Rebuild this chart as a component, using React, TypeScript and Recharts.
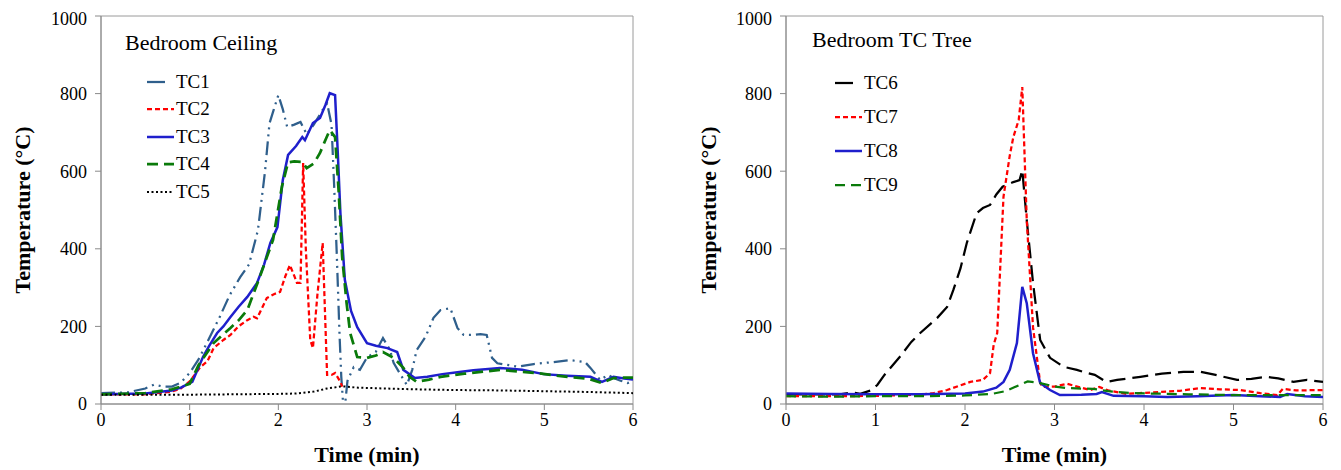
import React from "react";
import {
  LineChart,
  Line,
  XAxis,
  YAxis,
  ReferenceArea,
} from "recharts";

// values (time in min, temperature in °C)
const timeTicks = [0, 1, 2, 3, 4, 5, 6];
const tempTicks = [0, 200, 400, 600, 800, 1000];

const tc1Time = [0, 0.3, 0.5, 0.6, 0.7, 0.8, 0.9, 1.0, 1.1, 1.2, 1.34, 1.45, 1.57, 1.67, 1.77, 1.85, 1.9, 1.95, 2.0, 2.05, 2.1, 2.18, 2.25, 2.32, 2.4, 2.5, 2.55, 2.6, 2.63, 2.66, 2.69, 2.71, 2.74, 2.78, 2.85, 2.92, 3.0, 3.1, 3.18, 3.26, 3.3, 3.38, 3.45, 3.51, 3.56, 3.66, 3.75, 3.83, 3.94, 4.02, 4.09, 4.2, 4.28, 4.35, 4.41, 4.47, 4.6, 4.7, 4.88, 5.1, 5.29, 5.46, 5.52, 5.63, 5.72, 5.78, 5.86, 5.94, 6.0];
const tc1Temp = [28, 30, 40, 50, 45, 45, 55, 80, 115, 160, 225, 280, 327, 360, 448, 600, 723, 760, 796, 760, 714, 720, 727, 695, 720, 758, 775, 720, 560, 380, 180, 70, -30, 60, 95, 88, 120, 135, 170, 139, 106, 75, 49, 88, 139, 173, 222, 242, 247, 196, 178, 178, 180, 178, 119, 105, 100, 96, 103, 108, 113, 108, 93, 62, 75, 67, 60, 54, 60];

const tc2Time = [0, 0.5, 0.8, 0.9, 1.0, 1.12, 1.2, 1.27, 1.38, 1.46, 1.55, 1.65, 1.72, 1.76, 1.87, 1.95, 2.02, 2.08, 2.13, 2.18, 2.21, 2.25, 2.28, 2.31, 2.36, 2.39, 2.44, 2.5, 2.55, 2.6, 2.64, 2.7, 2.72];
const tc2Temp = [25, 25, 32, 40, 58, 95, 110, 144, 165, 178, 200, 216, 225, 221, 273, 283, 289, 330, 358, 330, 312, 312, 621, 400, 165, 144, 280, 415, 75, 75, 80, 57, 45];

const tc3Time = [0, 0.5, 0.8, 0.9, 1.03, 1.15, 1.22, 1.31, 1.38, 1.46, 1.55, 1.65, 1.76, 1.84, 1.91, 1.99, 2.05, 2.11, 2.2, 2.27, 2.3, 2.39, 2.47, 2.53, 2.58, 2.64, 2.67, 2.7, 2.75, 2.82, 2.89, 3.0, 3.1, 3.23, 3.34, 3.41, 3.54, 3.68, 3.85, 4.02, 4.2, 4.5, 4.75, 4.99, 5.25, 5.52, 5.65, 5.78, 5.9, 6.0];
const tc3Temp = [25, 27, 35, 42, 57, 121, 150, 183, 200, 224, 250, 276, 312, 360, 415, 456, 577, 642, 665, 688, 680, 724, 737, 770, 801, 796, 650, 492, 320, 240, 198, 157, 150, 144, 134, 88, 67, 70, 77, 82, 87, 93, 88, 77, 73, 70, 57, 70, 66, 63];

const tc4Time = [0, 0.5, 0.8, 0.9, 1.0, 1.1, 1.27, 1.38, 1.46, 1.55, 1.65, 1.79, 1.94, 2.04, 2.11, 2.18, 2.27, 2.32, 2.4, 2.47, 2.53, 2.58, 2.64, 2.68, 2.72, 2.77, 2.81, 2.89, 3.0, 3.1, 3.18, 3.3, 3.41, 3.48, 3.56, 3.7, 3.83, 4.1, 4.5, 4.9, 5.26, 5.5, 5.65, 5.78, 5.9, 6.0];
const tc4Temp = [25, 28, 38, 45, 52, 100, 157, 180, 196, 215, 242, 327, 423, 560, 623, 625, 624, 608, 620, 647, 680, 706, 688, 550, 379, 260, 183, 121, 119, 125, 134, 119, 93, 70, 57, 63, 70, 78, 88, 80, 70, 65, 54, 67, 68, 68];

const tc5Time = [0, 0.5, 1.0, 1.5, 2.0, 2.2, 2.4, 2.55, 2.7, 2.75, 2.9, 3.2, 3.5, 4.0, 4.5, 5.0, 5.5, 6.0];
const tc5Temp = [24, 24, 24, 25, 26, 27, 32, 40, 45, 45, 42, 40, 38, 36, 35, 33, 31, 28];

const tc6Time = [0, 0.3, 0.6, 0.7, 0.75, 0.83, 0.95, 1.02, 1.1, 1.27, 1.4, 1.5, 1.69, 1.8, 1.87, 1.95, 2.02, 2.13, 2.2, 2.28, 2.35, 2.42, 2.54, 2.61, 2.64, 2.69, 2.76, 2.84, 2.95, 3.1, 3.25, 3.36, 3.45, 3.58, 3.7, 3.96, 4.2, 4.44, 4.63, 4.8, 5.04, 5.2, 5.37, 5.5, 5.67, 5.82, 6.0];
const tc6Temp = [25, 25, 25, 28, 30, 26, 35, 49, 75, 121, 160, 183, 222, 250, 294, 350, 415, 492, 505, 513, 540, 560, 572, 577, 603, 474, 312, 165, 119, 96, 88, 80, 75, 57, 62, 70, 78, 83, 83, 75, 62, 65, 70, 66, 57, 62, 57];

const tc7Time = [0, 0.5, 1.0, 1.5, 1.65, 1.8, 1.95, 2.06, 2.2, 2.28, 2.32, 2.36, 2.43, 2.5, 2.54, 2.6, 2.64, 2.69, 2.76, 2.84, 2.87, 3.0, 3.14, 3.3, 3.4, 3.5, 3.6, 3.8, 4.1, 4.4, 4.63, 4.85, 5.07, 5.3, 5.49, 5.55, 5.7, 6.0];
const tc7Temp = [20, 20, 21, 24, 28, 36, 48, 57, 62, 80, 152, 183, 534, 640, 688, 732, 817, 474, 198, 54, 44, 45, 52, 42, 36, 44, 35, 26, 30, 34, 41, 38, 36, 28, 23, 39, 35, 36];

const tc8Time = [0, 0.5, 1.0, 1.5, 2.0, 2.2, 2.35, 2.43, 2.5, 2.58, 2.64, 2.69, 2.76, 2.84, 2.95, 3.06, 3.3, 3.47, 3.53, 3.66, 4.0, 4.26, 4.6, 5.0, 5.3, 5.52, 5.6, 5.8, 6.0];
const tc8Temp = [27, 26, 25, 25, 27, 32, 42, 57, 88, 157, 302, 260, 131, 54, 36, 23, 24, 26, 31, 21, 20, 18, 20, 23, 20, 18, 26, 20, 18];

const tc9Time = [0, 0.5, 1.0, 1.5, 2.0, 2.3, 2.45, 2.55, 2.61, 2.7, 2.84, 3.0, 3.14, 3.43, 3.6, 3.88, 4.5, 5.0, 5.5, 6.0];
const tc9Temp = [20, 19, 20, 20, 22, 26, 33, 43, 49, 58, 54, 45, 41, 39, 33, 28, 25, 23, 23, 23];

const toPoints = (time: number[], temp: number[]) =>
  time.map((t, i) => ({ t, v: temp[i] }));

type Series = {
  name: string;
  data: { t: number; v: number }[];
  color: string;
  width: number;
  dash?: string;
  sampleDash?: string;
};

const ceilingSeries: Series[] = [
  { name: "TC1", data: toPoints(tc1Time, tc1Temp), color: "#2f5f8c", width: 2.25, dash: "14 5 2 5 2 5", sampleDash: "18 30" },
  { name: "TC2", data: toPoints(tc2Time, tc2Temp), color: "#ff0000", width: 2.25, dash: "5 3" },
  { name: "TC3", data: toPoints(tc3Time, tc3Temp), color: "#1f1fcc", width: 2.5 },
  { name: "TC4", data: toPoints(tc4Time, tc4Temp), color: "#0a7a0a", width: 2.75, dash: "11 6" },
  { name: "TC5", data: toPoints(tc5Time, tc5Temp), color: "#000000", width: 2, dash: "2 2.5" },
];

const treeSeries: Series[] = [
  { name: "TC6", data: toPoints(tc6Time, tc6Temp), color: "#000000", width: 2.25, dash: "16 7", sampleDash: "18 30" },
  { name: "TC7", data: toPoints(tc7Time, tc7Temp), color: "#ff0000", width: 2.25, dash: "5 3" },
  { name: "TC8", data: toPoints(tc8Time, tc8Temp), color: "#1f1fcc", width: 2.5 },
  { name: "TC9", data: toPoints(tc9Time, tc9Temp), color: "#0a7a0a", width: 2.25, dash: "10 6" },
];

const FONT = '"Times New Roman", "Liberation Serif", serif';

const YTitle = ({ viewBox, dx }: any) => {
  const cx = viewBox.x + dx;
  const cy = viewBox.y + viewBox.height / 2;
  return (
    <text
      x={cx}
      y={cy}
      transform={`rotate(-90 ${cx} ${cy})`}
      textAnchor="middle"
      dominantBaseline="central"
      fontFamily={FONT}
      fontWeight="bold"
      fontSize={22}
      fill="#000"
    >
      Temperature (°C)
    </text>
  );
};

const XTitle = ({ viewBox }: any) => (
  <text
    x={viewBox.x + viewBox.width / 2}
    y={viewBox.y + 50}
    textAnchor="middle"
    dominantBaseline="central"
    fontFamily={FONT}
    fontWeight="bold"
    fontSize={22}
    fill="#000"
  >
    Time (min)
  </text>
);

const LegendBox = ({ series, rowH }: { series: Series[]; rowH: number }) => (
  <div style={{ fontFamily: FONT, fontSize: 19, color: "#000" }}>
    {series.map((s) => (
      <div key={s.name} style={{ height: rowH, display: "flex", alignItems: "center" }}>
        <svg width={27} height={6} style={{ marginRight: 2 }}>
          <line
            x1={0}
            y1={3}
            x2={27}
            y2={3}
            stroke={s.color}
            strokeWidth={s.width}
            strokeDasharray={s.sampleDash ?? s.dash}
          />
        </svg>
        <span>{s.name}</span>
      </div>
    ))}
  </div>
);

type PanelProps = {
  title: string;
  series: Series[];
  left: number;
  width: number;
  yAxisWidth: number;
  rightMargin: number;
  titleX: number;
  titleY: number;
  legendX: number;
  legendY: number;
  rowH: number;
  yTitleDx: number;
};

const Panel = (p: PanelProps) => (
  <div style={{ position: "absolute", left: p.left, top: 0, width: p.width, height: 462 }}>
    <LineChart
      width={p.width}
      height={462}
      margin={{ top: 8, right: p.rightMargin, bottom: 0, left: 0 }}
    >
      <XAxis
        dataKey="t"
        type="number"
        domain={[0, 6]}
        ticks={timeTicks}
        allowDataOverflow
        height={66}
        tickSize={6}
        tickMargin={3}
        stroke="#8a8a8a"
        tick={{ fill: "#000", fontFamily: FONT, fontSize: 18 }}
        label={<XTitle />}
      />
      <YAxis
        type="number"
        domain={[0, 1000]}
        ticks={tempTicks}
        allowDataOverflow
        width={p.yAxisWidth}
        tickSize={6}
        tickMargin={8}
        stroke="#8a8a8a"
        tick={{ fill: "#000", fontFamily: FONT, fontSize: 18 }}
        label={<YTitle dx={p.yTitleDx} />}
      />
      <ReferenceArea x1={0} x2={6} y1={0} y2={1000} fill="none" stroke="#9a9a9a" strokeWidth={1} />
      {p.series.map((s) => (
        <Line
          key={s.name}
          data={s.data}
          dataKey="v"
          name={s.name}
          type="linear"
          dot={false}
          activeDot={false}
          stroke={s.color}
          strokeWidth={s.width}
          strokeDasharray={s.dash}
          isAnimationActive={false}
        />
      ))}
    </LineChart>
    <div style={{ position: "absolute", left: p.legendX, top: p.legendY, width: 120 }}>
      <LegendBox series={p.series} rowH={p.rowH} />
    </div>
    <div
      style={{
        position: "absolute",
        left: p.titleX,
        top: p.titleY,
        fontFamily: FONT,
        fontSize: 22,
        lineHeight: "26px",
        color: "#000",
        whiteSpace: "nowrap",
      }}
    >
      {p.title}
    </div>
  </div>
);

export default function App() {
  return (
    <div style={{ position: "relative", width: 1325, height: 462 }}>
      <Panel
        title="Bedroom Ceiling"
        series={ceilingSeries}
        left={0}
        width={650}
        yAxisWidth={93}
        rightMargin={25}
        titleX={117}
        titleY={22}
        legendX={139}
        legendY={60}
        rowH={27.5}
        yTitleDx={14}
      />
      <Panel
        title="Bedroom TC Tree"
        series={treeSeries}
        left={682}
        width={643}
        yAxisWidth={96}
        rightMargin={10}
        titleX={122}
        titleY={19}
        legendX={145}
        legendY={58}
        rowH={34}
        yTitleDx={18}
      />
    </div>
  );
}
